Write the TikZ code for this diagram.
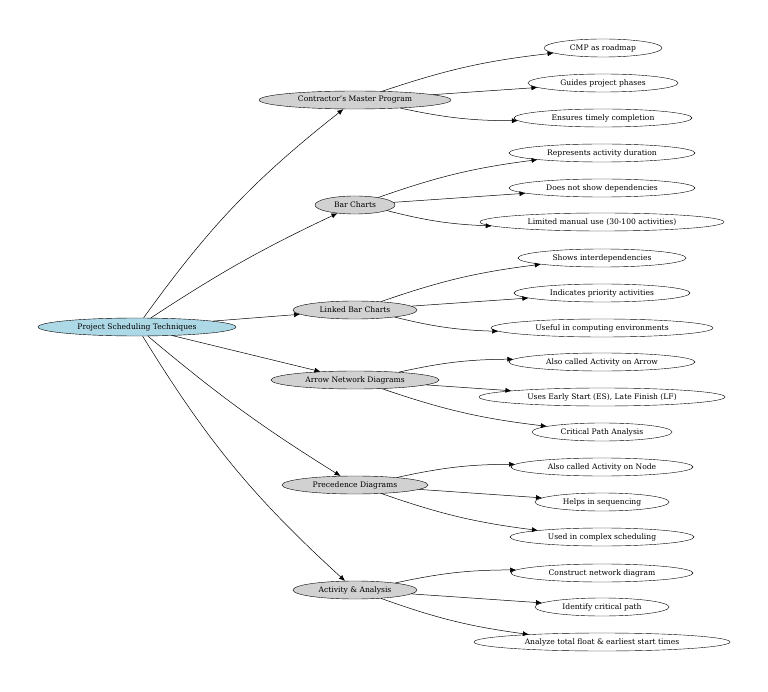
\documentclass[tikz,border=0pt]{standalone}
\usepackage{fontspec}
\setmainfont{DejaVu Serif}
\usetikzlibrary{shapes.geometric,arrows.meta}
\begin{document}
\begin{tikzpicture}[x=1pt,y=-1pt,
  base/.style={ellipse,draw,inner sep=0pt,minimum height=18pt,font=\fontsize{7.6}{9}\selectfont},
  root/.style={base,fill=lightbluec},
  mid/.style={base,fill=black!18},
  leaf/.style={base,fill=white},
  arr/.style={-{Latex[length=6pt,width=5pt]},line width=0.5pt}]
\definecolor{lightbluec}{RGB}{173,216,230}
\useasboundingbox (0,0) rectangle (768,692);
\node[root,minimum width=198pt] (r) at (137,327) {Project Scheduling Techniques};
\node[mid,minimum width=192pt] (a) at (355,100) {Contractor's Master Program};
\node[mid,minimum width=80pt] (b) at (355,205) {Bar Charts};
\node[mid,minimum width=124pt] (c) at (355,310) {Linked Bar Charts};
\node[mid,minimum width=168pt] (d) at (355,380) {Arrow Network Diagrams};
\node[mid,minimum width=146pt] (e) at (355,485) {Precedence Diagrams};
\node[mid,minimum width=124pt] (f) at (355,590) {Activity \& Analysis};
\node[leaf,minimum width=118pt] (a1) at (603,48) {CMP as roadmap};
\node[leaf,minimum width=150pt] (a2) at (603,83) {Guides project phases};
\node[leaf,minimum width=178pt] (a3) at (603,118) {Ensures timely completion};
\node[leaf,minimum width=186pt] (b1) at (602,153) {Represents activity duration};
\node[leaf,minimum width=186pt] (b2) at (602,188) {Does not show dependencies};
\node[leaf,minimum width=244pt] (b3) at (602,222) {Limited manual use (30-100 activities)};
\node[leaf,minimum width=168pt] (c1) at (602,258) {Shows interdependencies};
\node[leaf,minimum width=176pt] (c2) at (602,293) {Indicates priority activities};
\node[leaf,minimum width=222pt] (c3) at (602,328) {Useful in computing environments};
\node[leaf,minimum width=186pt] (d1) at (602,362) {Also called Activity on Arrow};
\node[leaf,minimum width=246pt] (d2) at (602,397) {Uses Early Start (ES), Late Finish (LF)};
\node[leaf,minimum width=140pt] (d3) at (602,432) {Critical Path Analysis};
\node[leaf,minimum width=182pt] (e1) at (602,467) {Also called Activity on Node};
\node[leaf,minimum width=134pt] (e2) at (602,502) {Helps in sequencing};
\node[leaf,minimum width=184pt] (e3) at (602,537) {Used in complex scheduling};
\node[leaf,minimum width=182pt] (f1) at (602,573) {Construct network diagram};
\node[leaf,minimum width=134pt] (f2) at (602,607) {Identify critical path};
\node[leaf,minimum width=256pt] (f3) at (602,642) {Analyze total float \& earliest start times};
\draw[arr] (r) to[bend left=8] (a);
\draw[arr] (r) to[bend left=4] (b);
\draw[arr] (r) -- (c);
\draw[arr] (r) -- (d);
\draw[arr] (r) to[bend right=4] (e);
\draw[arr] (r) to[bend right=8] (f);
\foreach \p in {a,b,c,d,e,f}{
  \draw[arr] (\p) to[bend left=6] (\p1);
  \draw[arr] (\p) -- (\p2);
  \draw[arr] (\p) to[bend right=6] (\p3);
}
\end{tikzpicture}
\end{document}
